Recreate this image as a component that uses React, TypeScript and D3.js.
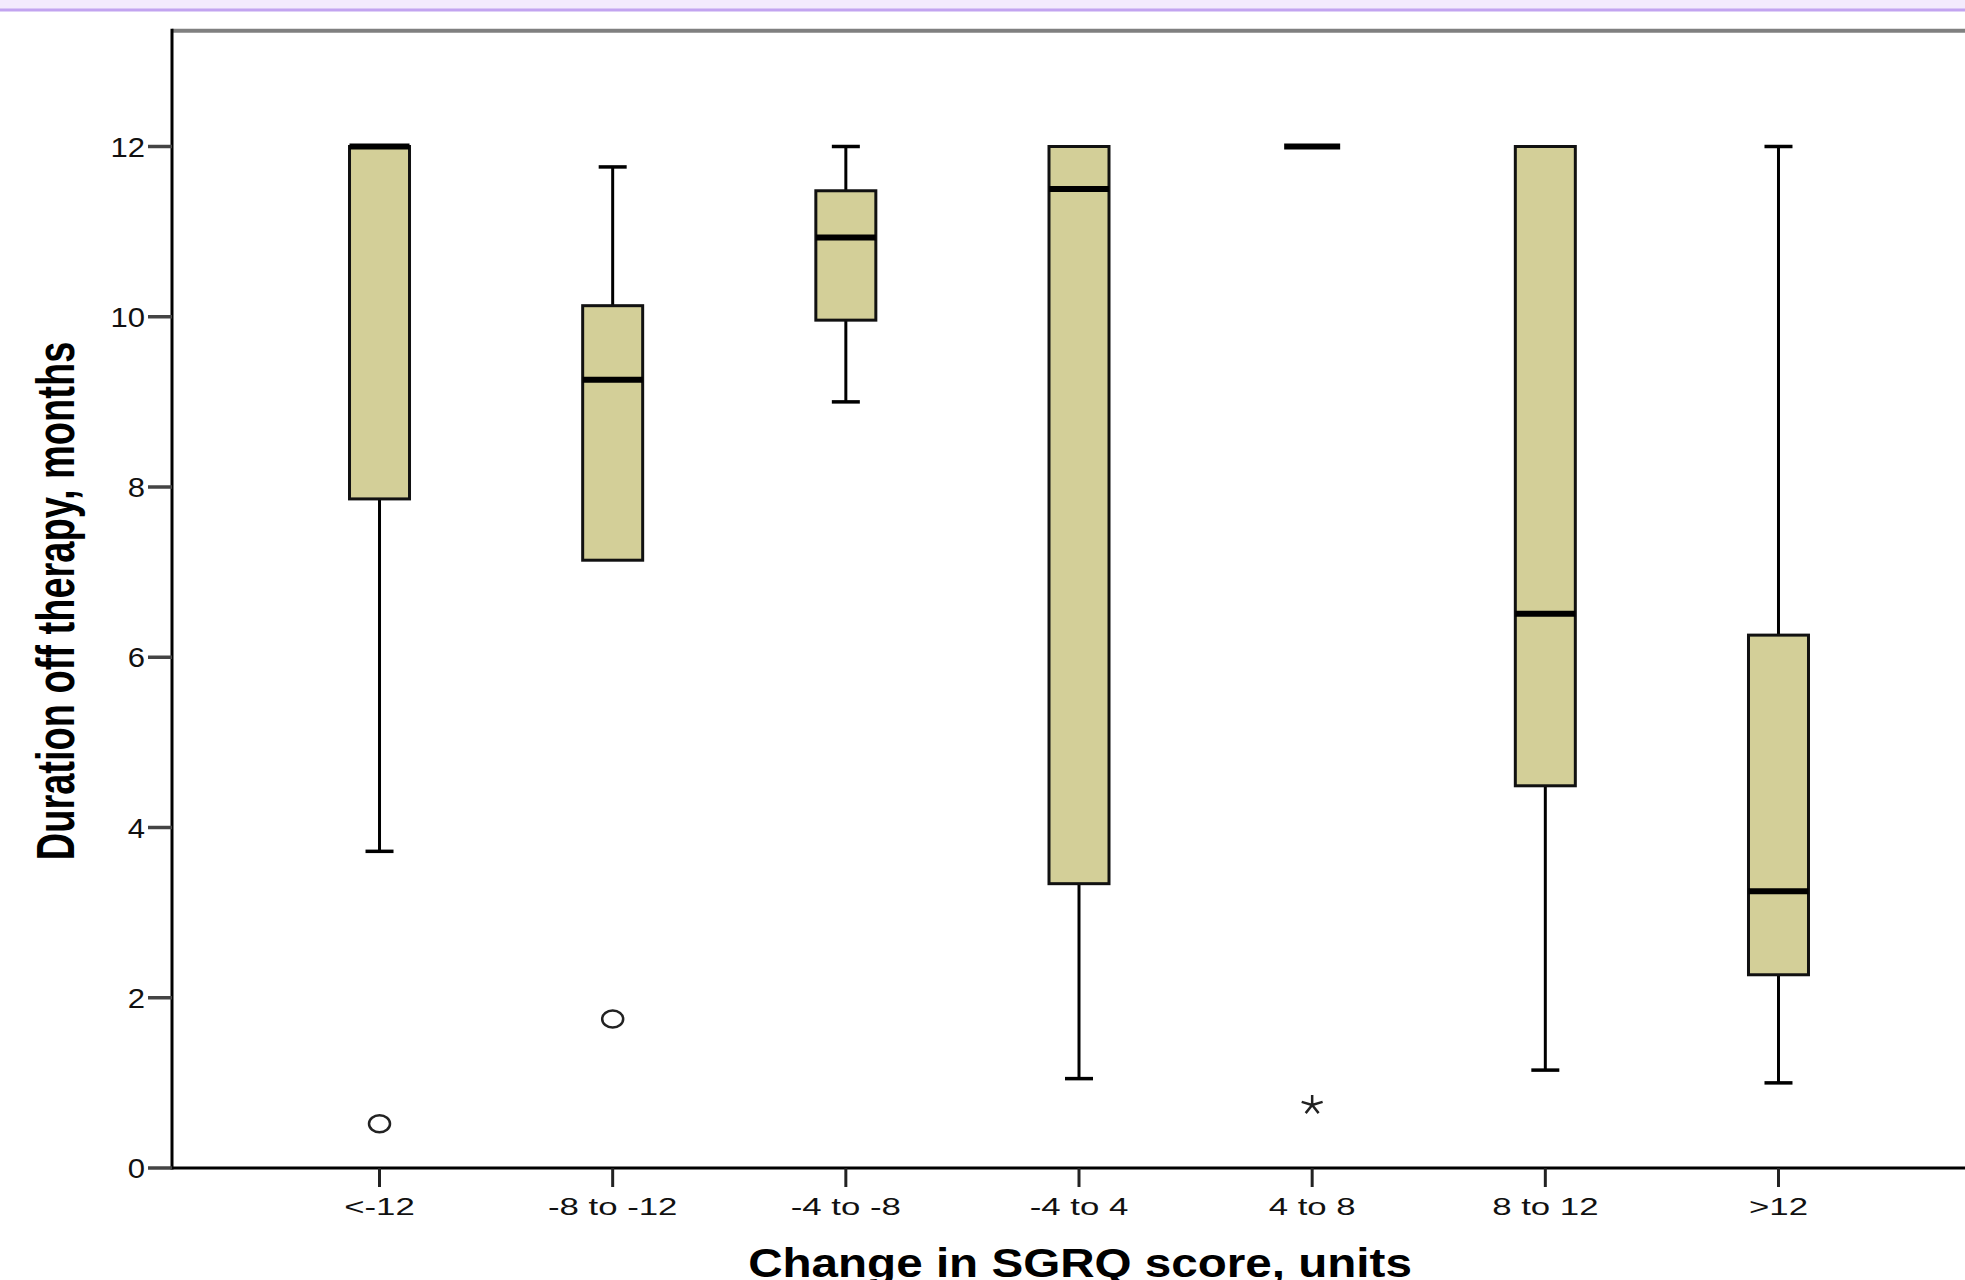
import * as d3 from 'd3';
import React, { useEffect, useRef } from 'react';

// Box plot data (months)
const categories = ['<-12', '-8 to -12', '-4 to -8', '-4 to 4', '4 to 8', '8 to 12', '>12'];
const whiskerLow = [3.72, 7.14, 9.0, 1.05, 12, 1.15, 1.0];
const quartile1 = [7.86, 7.14, 9.96, 3.34, 12, 4.49, 2.27];
const medians = [12, 9.26, 10.93, 11.5, 12, 6.51, 3.25];
const quartile3 = [12, 10.13, 11.48, 12, 12, 12, 6.26];
const whiskerHigh = [12, 11.76, 12, 12, 12, 12, 12];

// Outliers: circle = outlier, star = extreme
const outlierCategories = ['<-12', '-8 to -12', '4 to 8'];
const outlierValues = [0.52, 1.75, 0.74];
const outlierKinds = ['circle', 'circle', 'star'];

const yTicks = [0, 2, 4, 6, 8, 10, 12];

const xTitle = 'Change in SGRQ score, units';
const yTitle = 'Duration off therapy, months';

function App() {
    const chartRef = useRef(null);

    useEffect(() => {
        document.body.style.margin = '0';

        const width = 1965;
        const height = 1280;
        const left = 172;
        const bottom = 1168;
        const font = 'Arial, "Liberation Sans", sans-serif';

        const svg = d3.select(chartRef.current);
        svg.selectAll('*').remove();
        svg.attr('width', width).attr('height', height).style('background-color', 'white');

        // scales
        const x = d3.scalePoint().domain(categories).range([left, 1986]).padding(0.89);
        const y = d3.scaleLinear().domain([0, 12]).range([bottom, 146.5]);
        const boxWidth = 60;
        const capWidth = 28;

        // top purple strip of the page
        svg.append('rect').attr('x', 0).attr('y', 0).attr('width', width).attr('height', 9).attr('fill', '#f3ebfd');
        svg.append('line').attr('x1', 0).attr('x2', width).attr('y1', 10).attr('y2', 10)
            .attr('stroke', '#c2a4f0').attr('stroke-width', 3);

        // frame
        svg.append('line').attr('x1', left).attr('x2', width).attr('y1', y(13.36)).attr('y2', y(13.36))
            .attr('stroke', '#808080').attr('stroke-width', 4);
        svg.append('line').attr('x1', left).attr('x2', left).attr('y1', y(13.36) - 2).attr('y2', bottom + 1.5)
            .attr('stroke', '#000').attr('stroke-width', 3);
        svg.append('line').attr('x1', left - 1.5).attr('x2', width).attr('y1', bottom).attr('y2', bottom)
            .attr('stroke', '#000').attr('stroke-width', 3);

        // y ticks
        const yAxis = svg.append('g');
        yTicks.forEach((t) => {
            yAxis.append('line').attr('x1', 148).attr('x2', left).attr('y1', y(t)).attr('y2', y(t))
                .attr('stroke', '#444').attr('stroke-width', 3.5);
            yAxis.append('text')
                .attr('transform', `translate(145,${y(t) + 10}) scale(1.15,1)`)
                .attr('text-anchor', 'end')
                .style('font-family', font)
                .style('font-size', '27px')
                .attr('fill', '#111')
                .text(t);
        });

        // x ticks
        const xAxis = svg.append('g');
        categories.forEach((c) => {
            xAxis.append('line').attr('x1', x(c)).attr('x2', x(c)).attr('y1', bottom).attr('y2', bottom + 19)
                .attr('stroke', '#222').attr('stroke-width', 3);
            xAxis.append('text')
                .attr('transform', `translate(${x(c)},1215) scale(1.45,1)`)
                .attr('text-anchor', 'middle')
                .style('font-family', font)
                .style('font-size', '24px')
                .attr('fill', '#111')
                .text(c);
        });

        // axis titles
        svg.append('text')
            .attr('transform', 'translate(1080,1277) scale(1.19,1)')
            .attr('text-anchor', 'middle')
            .style('font-family', font)
            .style('font-size', '40px')
            .style('font-weight', 'bold')
            .attr('fill', '#000')
            .text(xTitle);
        svg.append('text')
            .attr('transform', 'translate(74,601) rotate(-90) scale(1,1.4)')
            .attr('text-anchor', 'middle')
            .style('font-family', font)
            .style('font-size', '38px')
            .style('font-weight', 'bold')
            .attr('fill', '#000')
            .text(yTitle);

        // boxes
        const boxes = svg.append('g');
        categories.forEach((c, i) => {
            const cx = x(c);
            const g = boxes.append('g');
            // whiskers
            if (whiskerHigh[i] > quartile3[i]) {
                g.append('line').attr('x1', cx).attr('x2', cx).attr('y1', y(whiskerHigh[i])).attr('y2', y(quartile3[i]))
                    .attr('stroke', '#000').attr('stroke-width', 3);
                g.append('line').attr('x1', cx - capWidth / 2).attr('x2', cx + capWidth / 2)
                    .attr('y1', y(whiskerHigh[i])).attr('y2', y(whiskerHigh[i]))
                    .attr('stroke', '#000').attr('stroke-width', 3.5);
            }
            if (whiskerLow[i] < quartile1[i]) {
                g.append('line').attr('x1', cx).attr('x2', cx).attr('y1', y(quartile1[i])).attr('y2', y(whiskerLow[i]))
                    .attr('stroke', '#000').attr('stroke-width', 3);
                g.append('line').attr('x1', cx - capWidth / 2).attr('x2', cx + capWidth / 2)
                    .attr('y1', y(whiskerLow[i])).attr('y2', y(whiskerLow[i]))
                    .attr('stroke', '#000').attr('stroke-width', 3.5);
            }
            // box
            if (quartile3[i] > quartile1[i]) {
                g.append('rect')
                    .attr('x', cx - boxWidth / 2)
                    .attr('y', y(quartile3[i]))
                    .attr('width', boxWidth)
                    .attr('height', y(quartile1[i]) - y(quartile3[i]))
                    .attr('fill', '#d3cf98')
                    .attr('stroke', '#111')
                    .attr('stroke-width', 3);
            }
            // median
            g.append('line')
                .attr('x1', cx - boxWidth / 2 + (quartile3[i] > quartile1[i] ? 0 : 2))
                .attr('x2', cx + boxWidth / 2 - (quartile3[i] > quartile1[i] ? 0 : 2))
                .attr('y1', y(medians[i])).attr('y2', y(medians[i]))
                .attr('stroke', '#000').attr('stroke-width', 6);
        });

        // outliers
        const star = (cx, cy, r) => {
            const p = d3.path();
            d3.range(5).forEach((k) => {
                const a = -Math.PI / 2 + (k * 2 * Math.PI) / 5;
                p.moveTo(cx, cy);
                p.lineTo(cx + Math.cos(a) * r * 1.1, cy + Math.sin(a) * r);
            });
            return p.toString();
        };
        outlierCategories.forEach((c, i) => {
            const cx = x(c);
            const cy = y(outlierValues[i]);
            if (outlierKinds[i] === 'circle') {
                svg.append('ellipse').attr('cx', cx).attr('cy', cy).attr('rx', 10.5).attr('ry', 8.5)
                    .attr('fill', 'none').attr('stroke', '#222').attr('stroke-width', 2.5);
            } else {
                svg.append('path').attr('d', star(cx, cy, 10))
                    .attr('fill', 'none').attr('stroke', '#222').attr('stroke-width', 2.5);
            }
        });
    }, []);

    return (
        <div id="boxplot-chart">
            <svg ref={chartRef} style={{ display: 'block' }} />
        </div>
    );
}

export default App;
